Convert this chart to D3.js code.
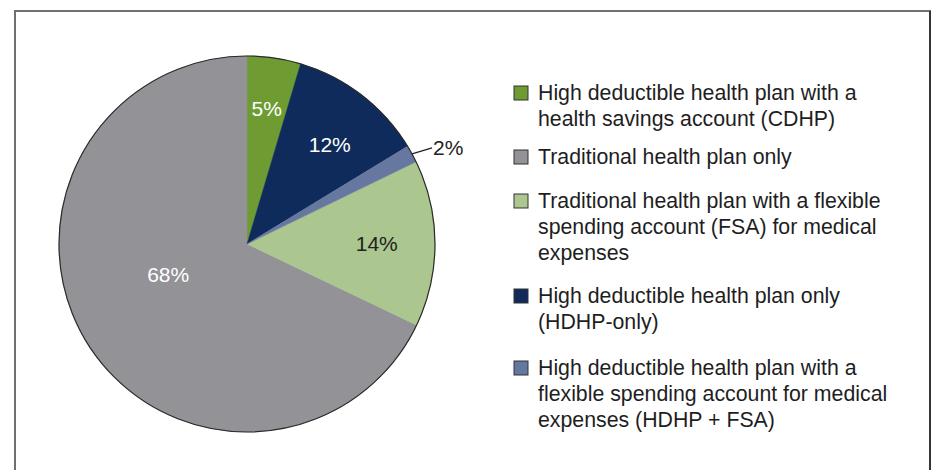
<!DOCTYPE html>
<html lang="en">
<head>
    <meta charset="UTF-8">
    <title>Health plan types</title>
    <script src="https://d3js.org/d3.v7.min.js"></script>
    <style>
        body { margin: 0; background: #fff; }
        svg text { font-family: "Liberation Sans", Arial, sans-serif; }
    </style>
</head>
<body>
    <svg width="933" height="470"></svg>
    <script>
        // categories in legend order, split into the lines shown in the legend
        const categories = [
            ["High deductible health plan with a", "health savings account (CDHP)"],
            ["Traditional health plan only"],
            ["Traditional health plan with a flexible", "spending account (FSA) for medical", "expenses"],
            ["High deductible health plan only", "(HDHP-only)"],
            ["High deductible health plan with a", "flexible spending account for medical", "expenses (HDHP + FSA)"]
        ];
        const shares = [4.6, 67.9, 14.3, 11.7, 1.5];
        const shareLabels = ["5%", "68%", "14%", "12%", "2%"];
        // clockwise order of the slices starting at 12 o'clock
        const sliceOrder = [0, 3, 4, 2, 1];
        const colors = ["#6e9b32", "#929297", "#abc68f", "#0f2b5b", "#6678a0"];

        const svg = d3.select("svg");
        const cx = 247, cy = 244, R = 188;

        // frame
        svg.append("rect")
            .attr("x", 15).attr("y", 11)
            .attr("width", 915).attr("height", 480)
            .attr("fill", "none")
            .attr("stroke", "#707070")
            .attr("stroke-width", 2);
        svg.append("line")
            .attr("x1", 930).attr("x2", 930)
            .attr("y1", 11).attr("y2", 470)
            .attr("stroke", "#222")
            .attr("stroke-width", 1.5);

        const idx = d3.range(shares.length);
        const pie = d3.pie()
            .value(i => shares[i])
            .sort((a, b) => sliceOrder.indexOf(a) - sliceOrder.indexOf(b));
        const arcs = pie(idx);
        const arc = d3.arc().innerRadius(0).outerRadius(R);

        const g = svg.append("g").attr("transform", `translate(${cx},${cy})`);

        g.selectAll("path.slice")
            .data(arcs)
            .enter().append("path")
            .attr("class", "slice")
            .attr("d", arc)
            .attr("fill", d => colors[d.data])
            .attr("stroke", d => colors[d.data])
            .attr("stroke-width", 0.5);

        g.append("circle")
            .attr("r", R)
            .attr("fill", "none")
            .attr("stroke", "#2a2a2a")
            .attr("stroke-width", 1.2);

        // label placement (radius fraction, angle shift in degrees); null = outside label
        const labelR = [0.73, 0.45, 0.69, 0.69, null];
        const labelShift = [0, 11, 0, 2, 0];
        const labelColor = ["#fff", "#fff", "#222", "#fff", "#222"];

        arcs.forEach(d => {
            const i = d.data;
            const mid = (d.startAngle + d.endAngle) / 2;
            if (labelR[i] !== null) {
                const a = mid + labelShift[i] * Math.PI / 180;
                const r = labelR[i] * R;
                g.append("text")
                    .attr("x", r * Math.sin(a))
                    .attr("y", -r * Math.cos(a))
                    .attr("text-anchor", "middle")
                    .attr("dominant-baseline", "central")
                    .attr("fill", labelColor[i])
                    .style("font-size", "21px")
                    .text(shareLabels[i]);
            } else {
                const x0 = R * Math.sin(mid), y0 = -R * Math.cos(mid);
                const x1 = x0 + 20, y1 = y0 - 6;
                g.append("line")
                    .attr("x1", x0).attr("y1", y0)
                    .attr("x2", x1).attr("y2", y1)
                    .attr("stroke", "#222")
                    .attr("stroke-width", 1.3);
                g.append("text")
                    .attr("x", x1 + 1)
                    .attr("y", y1)
                    .attr("dominant-baseline", "central")
                    .attr("fill", "#222")
                    .style("font-size", "21px")
                    .text(shareLabels[i]);
            }
        });

        // legend
        const legendTop = [93, 157, 201, 296, 368];
        const lineH = 26;
        const legend = svg.append("g");
        categories.forEach((lines, i) => {
            legend.append("rect")
                .attr("x", 514)
                .attr("y", legendTop[i] - 7)
                .attr("width", 14)
                .attr("height", 14)
                .attr("fill", colors[i])
                .attr("stroke", "#333")
                .attr("stroke-width", 1);
            const t = legend.append("text")
                .attr("x", 538)
                .attr("y", legendTop[i])
                .attr("fill", "#1e1e1e")
                .style("font-size", "21.3px");
            lines.forEach((s, j) => {
                t.append("tspan")
                    .attr("x", 538)
                    .attr("y", legendTop[i] + j * lineH)
                    .attr("dominant-baseline", "central")
                    .text(s);
            });
        });
    </script>
</body>
</html>
